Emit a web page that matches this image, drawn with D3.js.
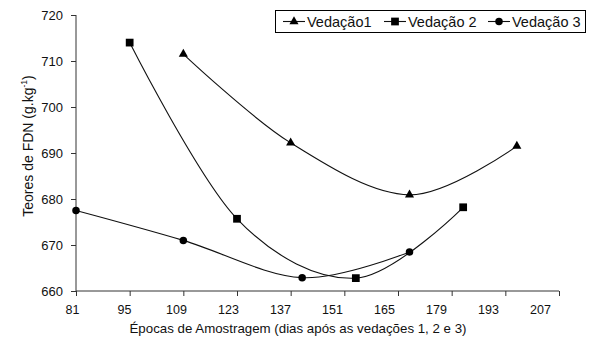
<!DOCTYPE html>
<html>
<head>
<meta charset="utf-8">
<script src="https://cdn.jsdelivr.net/npm/d3@7"></script>
<style>
  body { margin: 0; background: #fff; }
  text { font-family: "Liberation Sans", Arial, sans-serif; fill: #111; }
</style>
</head>
<body>
<div id="chart"></div>
<script>
const xTickValues = [81, 95, 109, 123, 137, 151, 165, 179, 193, 207];
const yTickValues = [660, 670, 680, 690, 700, 710, 720];

const seriesNames = ["Vedação1", "Vedação 2", "Vedação 3"];
const ved1Days = [109, 137, 168, 196];
const ved1Values = [711.5, 692.2, 680.9, 691.5];
const ved2Days = [95, 123, 154, 182];
const ved2Values = [714.0, 675.7, 662.8, 678.2];
const ved3Days = [81, 109, 140, 168];
const ved3Values = [677.5, 671.0, 662.9, 668.5];

const width = 594, height = 344;
const margin = {top: 15, right: 35, bottom: 53, left: 76};

const svg = d3.select("#chart").append("svg")
    .attr("width", width)
    .attr("height", height);

const x = d3.scaleLinear().domain([81, 207]).range([margin.left, 559]);
// Excel puts the labels at a slightly tighter spacing than the ticks
const xLab = d3.scaleLinear().domain([81, 207]).range([72, 540]);
const y = d3.scaleLinear().domain([660, 720]).range([height - margin.bottom, margin.top]);

const axisColor = "#333";
const font = "Liberation Sans, Arial, sans-serif";

// y axis
const yAxis = svg.append("g")
    .attr("transform", "translate(" + margin.left + ",0)")
    .call(d3.axisLeft(y).tickValues(yTickValues).tickSize(5).tickPadding(8));
yAxis.select(".domain").attr("stroke", axisColor).attr("d", "M0," + y(660) + "V" + y(720));
yAxis.selectAll(".tick line").attr("stroke", axisColor);
yAxis.selectAll("text").attr("font-size", 13).attr("dy", "0.36em").style("font-family", font).attr("fill", "#111");

// x axis ticks
const xAxis = svg.append("g")
    .attr("transform", "translate(0," + y(660) + ")")
    .call(d3.axisBottom(x).tickValues(xTickValues).tickSize(5).tickFormat(""));
xAxis.select(".domain").attr("stroke", axisColor).attr("d", "M" + margin.left + ",0H" + x(207));
xAxis.selectAll(".tick line").attr("stroke", axisColor);

// x axis labels
const xLabels = svg.append("g")
    .attr("transform", "translate(0," + y(660) + ")")
    .call(d3.axisBottom(xLab).tickValues(xTickValues).tickSize(0).tickPadding(14));
xLabels.select(".domain").remove();
xLabels.selectAll("text").attr("font-size", 12.5).style("font-family", font).attr("fill", "#111");

// axis titles
svg.append("text")
    .attr("x", 298)
    .attr("y", 333)
    .attr("text-anchor", "middle")
    .attr("font-size", 13.3)
    .text("Épocas de Amostragem (dias após as vedações 1, 2 e 3)");

const yTitle = svg.append("text")
    .attr("transform", "translate(33,146) rotate(-90)")
    .attr("text-anchor", "middle")
    .attr("font-size", 14);
yTitle.append("tspan").text("Teores de FDN (g.kg");
yTitle.append("tspan").attr("font-size", 8.5).attr("dy", -6).text("-1");
yTitle.append("tspan").attr("dy", 6).text(")");

// series
const series = [
    {name: seriesNames[0], days: ved1Days, values: ved1Values, symbol: d3.symbolTriangle, size: 36},
    {name: seriesNames[1], days: ved2Days, values: ved2Values, symbol: d3.symbolSquare, size: 60},
    {name: seriesNames[2], days: ved3Days, values: ved3Values, symbol: d3.symbolCircle, size: 44}
];

const line = d3.line()
    .x(d => x(d[0]))
    .y(d => y(d[1]))
    .curve(d3.curveCatmullRom.alpha(0));

series.forEach(s => {
    const pts = s.days.map((d, i) => [d, s.values[i]]);
    svg.append("path")
        .datum(pts)
        .attr("fill", "none")
        .attr("stroke", "#111")
        .attr("stroke-width", 1.1)
        .attr("d", line);
    svg.selectAll(null)
        .data(pts)
        .enter().append("path")
        .attr("transform", d => "translate(" + x(d[0]) + "," + y(d[1]) + ")")
        .attr("d", d3.symbol().type(s.symbol).size(s.size))
        .attr("fill", "#000");
});

// legend
const legend = svg.append("g");
legend.append("rect")
    .attr("x", 275.5).attr("y", 10.5)
    .attr("width", 310).attr("height", 22)
    .attr("fill", "#fff").attr("stroke", "#000");

const legendX = [283, 384, 488];
series.forEach((s, i) => {
    const g = legend.append("g").attr("transform", "translate(" + legendX[i] + ",21.5)");
    g.append("line").attr("x1", 0).attr("x2", 22).attr("stroke", "#111").attr("stroke-width", 1.1);
    g.append("path").attr("transform", "translate(11,0)")
        .attr("d", d3.symbol().type(s.symbol).size(s.size))
        .attr("fill", "#000");
    g.append("text").attr("x", 24).attr("y", 5).attr("font-size", 14.5).text(s.name);
});
</script>
</body>
</html>
